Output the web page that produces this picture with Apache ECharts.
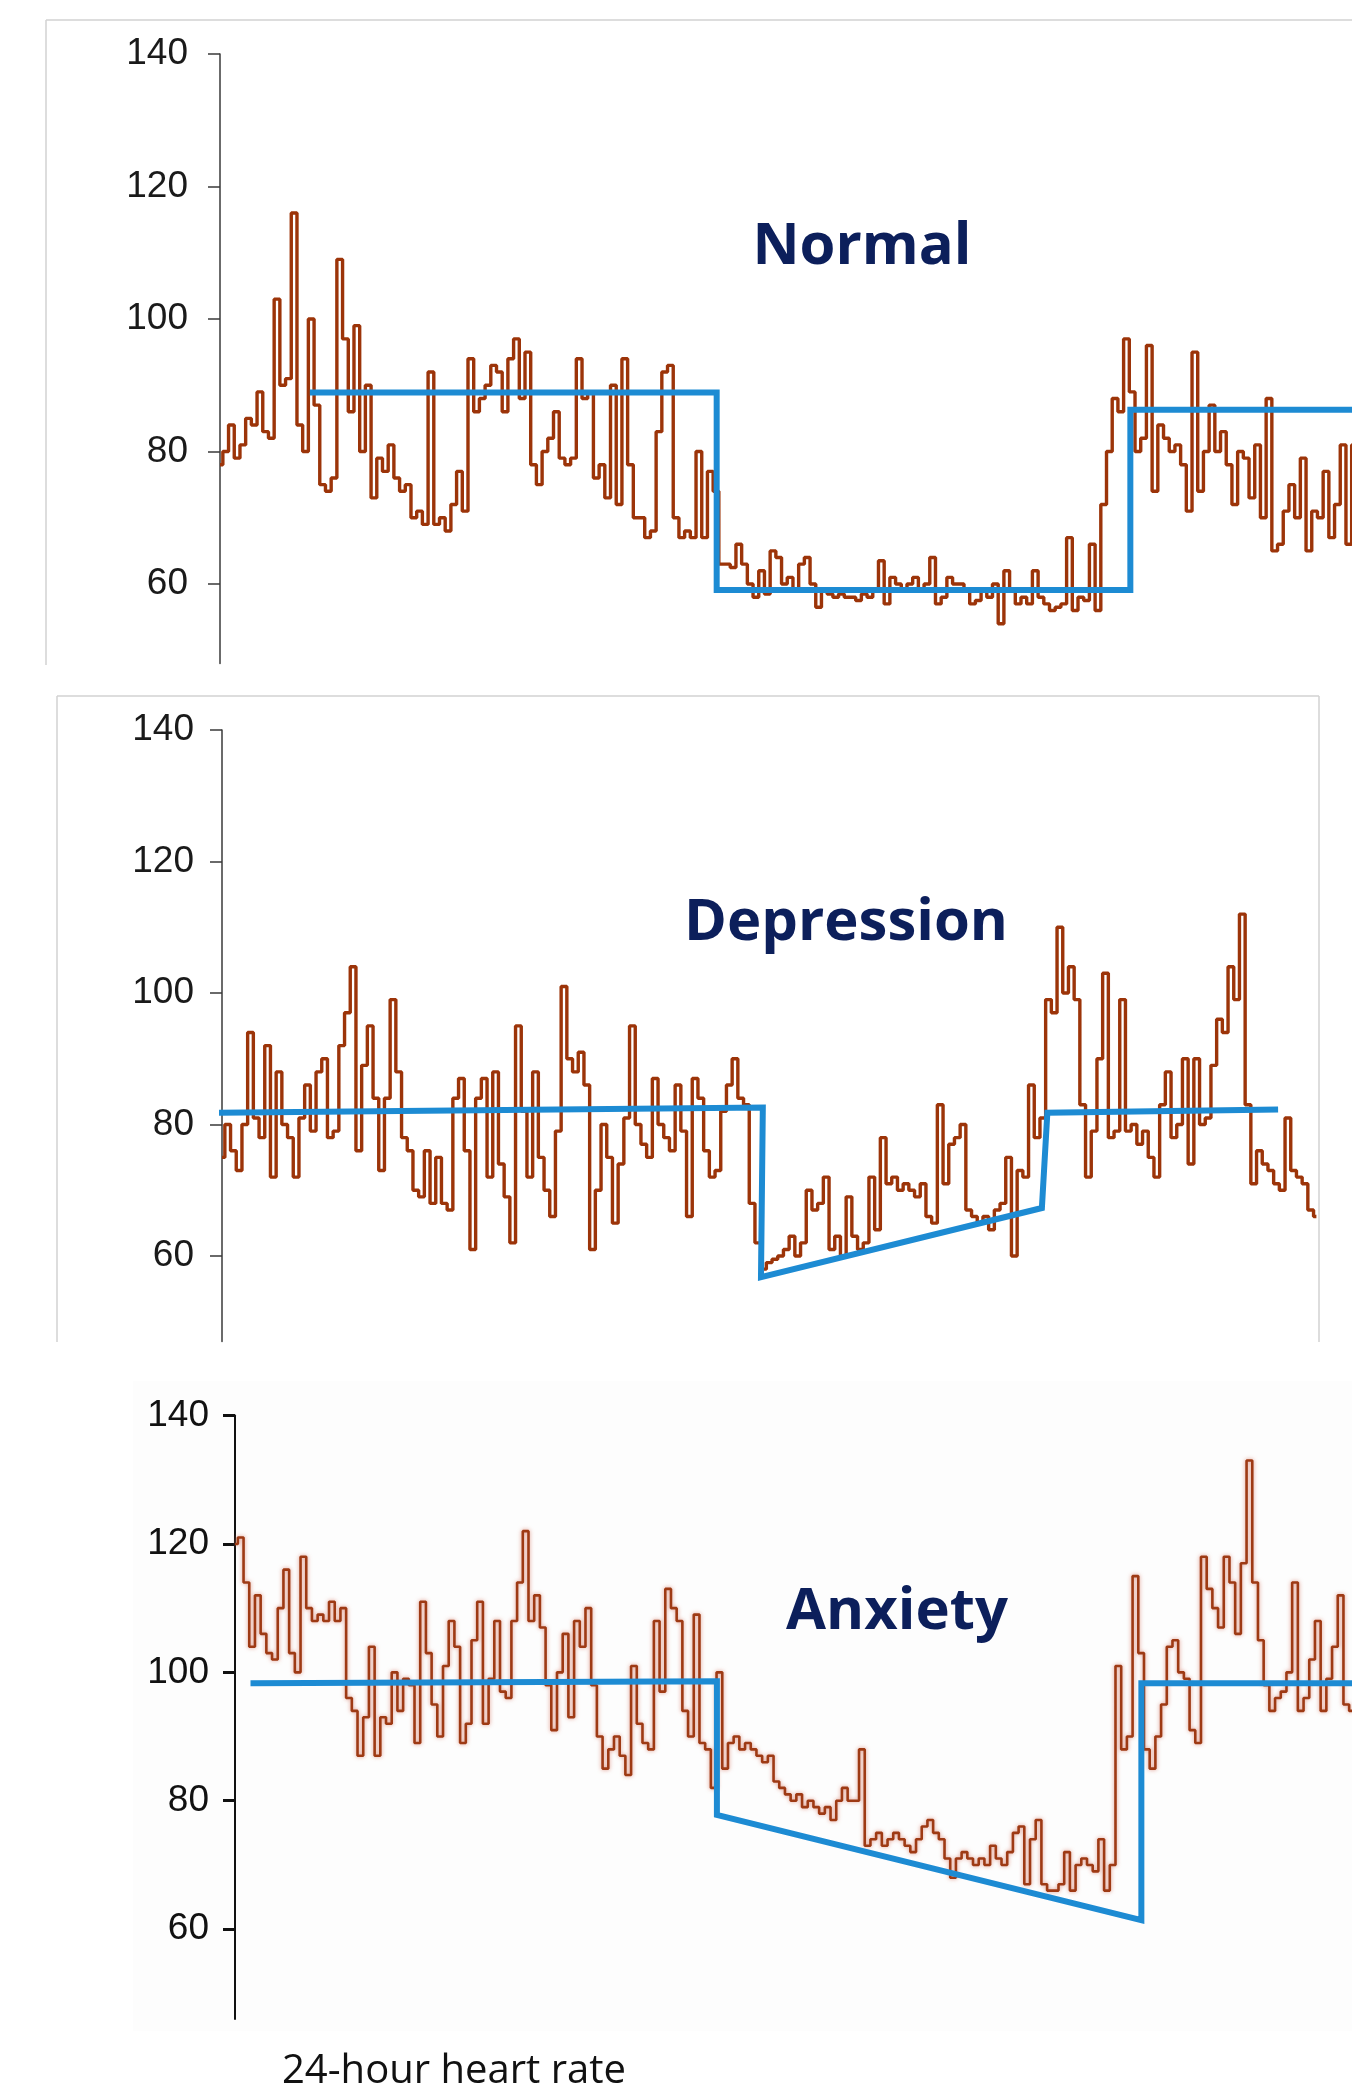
<!DOCTYPE html>
<html><head><meta charset="utf-8">
<script src="https://cdn.jsdelivr.net/npm/echarts@6/dist/echarts.min.js"></script>
<style>html,body{margin:0;padding:0;background:#fff}#c{width:1352px;height:2083px}</style>
</head><body><div id="c"></div>
<script>
// ---- data (hours sampled every STEP_H, beats per minute) ----
const STEP_H = 0.125;
const yTicks = [60, 80, 100, 120, 140];
const panelTitles = ['Normal', 'Depression', 'Anxiety'];
const caption = '24-hour heart rate';

const normalHR = [
  78,80,84,79,81,85,84,89,83,82,
  103,90,91,116,84,80,100,87,75,74,
  76,109,97,86,99,80,90,73,79,77,
  81,76,74,75,70,71,69,92,69,70,
  68,72,77,71,94,86,88,90,93,92,
  86,94,97,88,95,78,75,80,82,86,
  79,78,79,94,88,89,76,78,73,90,
  72,94,78,70,70,67,68,83,92,93,
  70,67,68,67,80,67,77,74,63,63,
  62.5,66,63,60,58,62,58.5,65,64,60,
  61,59,63,64,60,56.5,59,58.5,58,58.5,
  58,58,57.5,58.5,58,59,63.5,57,61,60,
  59,60,61,59,60,64,57,58,61,60,
  60,59,57,57.5,59,58,60,54,62,59,
  57,58,57,62,58,57,56,56.5,57,67,
  56,58,57.5,66,56,72,80,88,86,97,
  89,80,82,96,74,84,82,80,81,78,
  71,95,74,80,87,80,83,78,72,80,
  79,73,81,70,88,65,66,71,75,70,
  79,65,71,70,77,67,72,81,66,81
];

const depressionHR = [
  75,80,76,73,80,94,81,78,92,72,
  88,80,78,72,81,86,79,88,90,78,
  79,92,97,104,76,89,95,84,73,84,
  99,88,78,76,70,69,76,68,75,68,
  67,84,87,76,61,84,87,72,88,74,
  69,62,95,82,72,88,75,70,66,79,
  101,90,88,91,86,61,70,80,75,65,
  74,81,95,80,77,75,87,80,78,76,
  86,79,66,87,84,76,72,73,82,86,
  90,84,83,68,62,58,59,59.5,60,61,
  63,60,62,70,67,68,72,61,63,60,
  69,63,61,62,72,64,78,71,72,70,
  71,70,69,71,66,65,83,71,77,78,
  80,67,66,65,66,64,67,68,75,60,
  73,72,86,78,81,99,97,110,100,104,
  99,83,72,79,90,103,78,79,99,79,
  80,77,79,75,72,83,88,78,80,90,
  74,90,80,81,89,96,94,104,99,112,
  83,71,76,74,73,71,70,81,73,72,
  71,67,66
];

const anxietyHR = [
  120,121,114,104,112,106,103,102,110,116,
  103,100,118,110,108,109,108,111,108,110,
  96,94,87,93,104,87,93,92,100,94,
  99,98,89,111,103,95,90,101,108,104,
  89,92,105,111,92,99,108,97,96,108,
  114,122,108,112,107,98,91,100,106,93,
  108,104,110,98,90,85,88,90,87,84,
  101,92,89,88,108,97,113,110,108,94,
  90,109,89,88,82,100,85,89,90,88,
  89,88,87,86,87,83,82,81,80,81,
  79,80,79,78,79,77,80,82,80,80,
  88,73,74,75,73,74,75,74,73,72,
  74,76,77,75,74,71,68,71,72,71,
  70,71,70,73,71,70,72,75,76,67,
  74,77,67,66,66,67,72,66,70,71,
  70,69,74,66,70,101,88,90,115,103,
  88,85,90,95,104,105,100,99,91,89,
  118,113,110,107,118,114,106,117,133,114,
  105,98,94,96,97,100,114,94,96,102,
  108,94,99,104,112,95,94
];

// trend overlays: [hour, bpm]
const normalTrend = [[1.97,88.9],[10.89,88.9],[10.89,59.1],[19.96,59.1],[19.96,86.3],[25.2,86.3]];
const depressionTrend = [[-0.18,81.8],[11.86,82.6],[11.82,56.8],[17.98,67.3],[18.1,81.8],[23.16,82.3]];
const anxietyTrend = [[0.34,98.3],[10.57,98.6],[10.57,77.8],[19.88,61.4],[19.88,98.3],[25.2,98.3]];

// ---- layout ----
const panels = [
  {hr: normalHR, trend: normalTrend, left: 220, top: 54, width: 1132, height: 609.5, xmax: 24.82, ymin: 48, margin: 32,
   axisColor: '#3a3a3a', axisW: 1.5, tickW: 1.5, lineW: 3.4, lineColor: '#9c3409', blur: 0, labelColor: '#1a1a1a',
   title: {x: 862, y: 247}},
  {hr: depressionHR, trend: depressionTrend, left: 222, top: 730, width: 1094.4, height: 611.5, xmax: 24, ymin: 47, margin: 28,
   axisColor: '#3a3a3a', axisW: 1.5, tickW: 1.5, lineW: 3.4, lineColor: '#9c3409', blur: 0, labelColor: '#1a1a1a',
   title: {x: 846, y: 923}},
  {hr: anxietyHR, trend: anxietyTrend, left: 235, top: 1415.6, width: 1117, height: 603.4, xmax: 24.5, ymin: 46, margin: 26,
   axisColor: '#111111', axisW: 2, tickW: 3, lineW: 2.6, lineColor: '#9e3a14', blur: 4, labelColor: '#111111',
   title: {x: 897, y: 1612}}
];

const chart = echarts.init(document.getElementById('c'), null, {renderer: 'canvas'});

const grid = [], xAxis = [], yAxis = [], series = [];
panels.forEach((p, i) => {
  grid.push({left: p.left, top: p.top, width: p.width, height: p.height, containLabel: false});
  xAxis.push({type: 'value', gridIndex: i, min: 0, max: p.xmax, show: false});
  yAxis.push({
    type: 'value', gridIndex: i, min: p.ymin, max: 140,
    axisLine: {show: true, lineStyle: {color: p.axisColor, width: p.axisW}},
    axisTick: {show: true, customValues: yTicks, length: 12, lineStyle: {color: p.axisColor, width: p.tickW}},
    axisLabel: {show: true, customValues: yTicks, margin: p.margin, fontSize: 37,
      fontFamily: '"Liberation Sans", Arial, sans-serif', color: p.labelColor},
    splitLine: {show: false}
  });
  series.push({
    type: 'line', xAxisIndex: i, yAxisIndex: i, step: 'middle', showSymbol: false, symbol: 'none',
    data: p.hr.map((v, k) => [k * STEP_H, v]),
    lineStyle: {color: p.lineColor, width: p.lineW, shadowBlur: p.blur, shadowColor: 'rgba(215,120,100,0.75)'},
    z: 2, animation: false
  });
  series.push({
    type: 'line', xAxisIndex: i, yAxisIndex: i, showSymbol: false, symbol: 'none', clip: false,
    data: p.trend,
    lineStyle: {color: '#1d8bd3', width: 6, cap: 'butt', join: 'miter'},
    z: 5, animation: false
  });
});

const graphic = [
  // panel 3 faint background
  {type: 'rect', shape: {x: 133, y: 1381, width: 1219, height: 650}, style: {fill: '#fdfdfd'}, z: -10, silent: true},
  // panel 1 frame
  {type: 'line', shape: {x1: 46, y1: 20, x2: 1352, y2: 20}, style: {stroke: '#d2d2d2', lineWidth: 1.5}, silent: true},
  {type: 'line', shape: {x1: 46, y1: 20, x2: 46, y2: 665}, style: {stroke: '#d2d2d2', lineWidth: 1.5}, silent: true},
  // panel 2 frame
  {type: 'line', shape: {x1: 57, y1: 696, x2: 1319, y2: 696}, style: {stroke: '#d2d2d2', lineWidth: 1.5}, silent: true},
  {type: 'line', shape: {x1: 57, y1: 696, x2: 57, y2: 1342}, style: {stroke: '#d2d2d2', lineWidth: 1.5}, silent: true},
  {type: 'line', shape: {x1: 1319, y1: 696, x2: 1319, y2: 1342}, style: {stroke: '#d2d2d2', lineWidth: 1.5}, silent: true}
];
panels.forEach((p, i) => {
  graphic.push({type: 'text', x: p.title.x, y: p.title.y, z: 10, silent: true,
    style: {text: panelTitles[i], fill: '#0c1f5b', fontSize: 58, fontWeight: 'bold',
      fontFamily: '"Open Sans", "Noto Sans", sans-serif', align: 'center', verticalAlign: 'middle'}});
});
graphic.push({type: 'text', x: 282, y: 2072, z: 10, silent: true,
  style: {text: caption, fill: '#111', fontSize: 40, fontFamily: '"Open Sans", "Noto Sans", sans-serif',
    align: 'left', verticalAlign: 'middle'}});

chart.setOption({
  backgroundColor: '#ffffff',
  animation: false,
  grid, xAxis, yAxis, series, graphic
});
</script>
</body></html>
